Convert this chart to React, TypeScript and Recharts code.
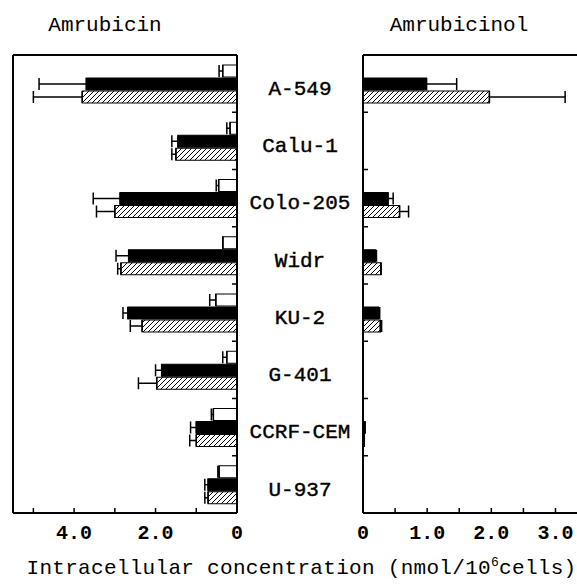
import { BarChart, Bar, XAxis, YAxis, ErrorBar } from "recharts";

const categories = ["A-549", "Calu-1", "Colo-205", "Widr", "KU-2", "G-401", "CCRF-CEM", "U-937"];

// Amrubicin (left panel)
const amrOpen = [0.35, 0.17, 0.45, 0.35, 0.52, 0.25, 0.58, 0.44];
const amrOpenErr = [0.09, 0.08, 0.06, 0, 0.15, 0.1, 0.05, 0.03];
const amrSolid = [3.7, 1.45, 2.87, 2.66, 2.68, 1.85, 1.0, 0.71];
const amrSolidErr = [1.16, 0.15, 0.66, 0.31, 0.12, 0.15, 0.14, 0.08];
const amrHatch = [3.8, 1.5, 3.0, 2.85, 2.33, 1.97, 1.0, 0.71];
const amrHatchErr = [1.2, 0.1, 0.45, 0.08, 0.29, 0.45, 0.16, 0.08];

// Amrubicinol (right panel)
const olOpen = [0, 0, 0, 0, 0, 0, 0, 0];
const olSolid = [0.99, 0, 0.39, 0.19, 0.24, 0, 0.03, 0];
const olSolidErr = [0.47, 0, 0.08, 0.02, 0.02, 0, 0, 0];
const olHatch = [1.97, 0, 0.57, 0.28, 0.27, 0, 0.02, 0];
const olHatchErr = [1.18, 0, 0.14, 0, 0.02, 0, 0, 0];

const leftTicks = [0, 1, 2, 3, 4, 5];
const leftLabels: Record<number, string> = { 0: "0", 2: "2.0", 4: "4.0" };
const rightTicks = [0, 0.5, 1, 1.5, 2, 2.5, 3];
const rightLabels: Record<number, string> = { 0: "0", 1: "1.0", 2: "2.0", 3: "3.0" };

const leftData = categories.map((name, i) => ({
  name,
  open: amrOpen[i],
  openErr: [0, amrOpenErr[i]],
  solid: amrSolid[i],
  solidErr: [0, amrSolidErr[i]],
  hatch: amrHatch[i],
  hatchErr: [0, amrHatchErr[i]],
}));

const rightData = categories.map((name, i) => ({
  name,
  open: olOpen[i],
  solid: olSolid[i],
  solidErr: [0, olSolidErr[i]],
  hatch: olHatch[i],
  hatchErr: [0, olHatchErr[i]],
}));

const FONT = "'Liberation Mono', 'DejaVu Sans Mono', monospace";
const H = 585;
const TOP = 55;
const BOTTOM = 513;
const band = (BOTTOM - TOP) / categories.length;

function xTick(labels: Record<number, string>) {
  return (props: any) => {
    const { x, y, payload } = props;
    const lab = labels[payload.value];
    return (
      <g>
        <line x1={x} y1={y} x2={x} y2={y - 5} stroke="#000" strokeWidth={1.5} />
        {lab !== undefined && (
          <text x={x} y={y + 26} textAnchor="middle" fontFamily={FONT} fontSize={20} fontWeight="bold" fill="#000">
            {lab}
          </text>
        )}
      </g>
    );
  };
}

function CategoryTick(props: any) {
  const { x, y, payload } = props;
  return (
    <g>
      <line x1={x} y1={y - band / 2} x2={x - 5} y2={y - band / 2} stroke="#000" strokeWidth={1.5} />
      <text
        x={x + 63}
        y={y + 4}
        dy="0.35em"
        textAnchor="middle"
        fontFamily={FONT}
        fontSize={21}
        fill="#000"
        stroke="#000"
        strokeWidth={0.4}
      >
        {payload.value}
      </text>
    </g>
  );
}

function RightEdgeTick(props: any) {
  const { x, y } = props;
  return <line x1={x} y1={y - band / 2} x2={x + 5} y2={y - band / 2} stroke="#000" strokeWidth={1.5} />;
}

const axisStroke = { stroke: "#000", strokeWidth: 2 };

export default function App() {
  return (
    <div style={{ position: "absolute", left: 0, top: 0, width: 577, height: H, overflow: "hidden", background: "#fff" }}>
      <svg width={0} height={0} style={{ position: "absolute" }}>
        <defs>
          <pattern id="hatch" patternUnits="userSpaceOnUse" width={5} height={5}>
            <rect width={5} height={5} fill="#fff" />
            <path d="M-1,1 L1,-1 M0,5 L5,0 M4,6 L6,4" stroke="#000" strokeWidth={1} />
          </pattern>
        </defs>
      </svg>

      <div style={{ position: "absolute", left: 0, top: 14, width: 210, textAlign: "center", fontFamily: FONT, fontSize: 21 }}>
        Amrubicin
      </div>
      <div style={{ position: "absolute", left: 360, top: 14, width: 198, textAlign: "center", fontFamily: FONT, fontSize: 21 }}>
        Amrubicinol
      </div>

      <div style={{ position: "absolute", left: 0, top: 0 }}>
        <BarChart
          width={363}
          height={H}
          data={leftData}
          layout="vertical"
          margin={{ top: TOP - 1, right: 0, bottom: H - BOTTOM - 30, left: 12 }}
          barSize={12}
          barGap={1}
        >
          <XAxis
            xAxisId="b"
            type="number"
            domain={[0, 5.5]}
            ticks={leftTicks}
            reversed
            height={30}
            axisLine={axisStroke}
            tickLine={false}
            tickSize={0}
            tickMargin={0}
            tick={xTick(leftLabels)}
          />
          <XAxis xAxisId="t" type="number" domain={[0, 5.5]} reversed orientation="top" height={1} axisLine={axisStroke} tick={false} tickLine={false} />
          <YAxis
            yAxisId="c"
            type="category"
            dataKey="name"
            orientation="right"
            width={126}
            axisLine={axisStroke}
            tickLine={false}
            tickSize={0}
            tickMargin={0}
            tick={CategoryTick}
            interval={0}
          />
          <YAxis yAxisId="l" type="category" dataKey="name" orientation="left" width={1} axisLine={axisStroke} tick={false} tickLine={false} />
          <Bar xAxisId="b" yAxisId="c" dataKey="open" fill="#fff" stroke="#000" strokeWidth={1.2} isAnimationActive={false}>
            <ErrorBar dataKey="openErr" direction="x" width={6} stroke="#000" strokeWidth={1.5} />
          </Bar>
          <Bar xAxisId="b" yAxisId="c" dataKey="solid" fill="#000" stroke="#000" strokeWidth={1.2} isAnimationActive={false}>
            <ErrorBar dataKey="solidErr" direction="x" width={6} stroke="#000" strokeWidth={1.5} />
          </Bar>
          <Bar xAxisId="b" yAxisId="c" dataKey="hatch" fill="url(#hatch)" stroke="#000" strokeWidth={1.2} isAnimationActive={false}>
            <ErrorBar dataKey="hatchErr" direction="x" width={6} stroke="#000" strokeWidth={1.5} />
          </Bar>
        </BarChart>
      </div>

      <div style={{ position: "absolute", left: 350, top: 0 }}>
        <BarChart
          width={244}
          height={H}
          data={rightData}
          layout="vertical"
          margin={{ top: TOP - 1, right: 0, bottom: H - BOTTOM - 30, left: 12 }}
          barSize={12}
          barGap={1}
        >
          <XAxis
            xAxisId="b"
            type="number"
            domain={[0, 3.6]}
            ticks={rightTicks}
            height={30}
            axisLine={axisStroke}
            tickLine={false}
            tickSize={0}
            tickMargin={0}
            tick={xTick(rightLabels)}
          />
          <XAxis xAxisId="t" type="number" domain={[0, 3.6]} orientation="top" height={1} axisLine={axisStroke} tick={false} tickLine={false} />
          <YAxis
            yAxisId="l"
            type="category"
            dataKey="name"
            orientation="left"
            width={1}
            axisLine={axisStroke}
            tickLine={false}
            tickSize={0}
            tickMargin={0}
            tick={RightEdgeTick}
            interval={0}
          />
          <Bar xAxisId="b" yAxisId="l" dataKey="open" fill="#fff" stroke="none" isAnimationActive={false} />
          <Bar xAxisId="b" yAxisId="l" dataKey="solid" fill="#000" stroke="#000" strokeWidth={1.2} isAnimationActive={false}>
            <ErrorBar dataKey="solidErr" direction="x" width={6} stroke="#000" strokeWidth={1.5} />
          </Bar>
          <Bar xAxisId="b" yAxisId="l" dataKey="hatch" fill="url(#hatch)" stroke="#000" strokeWidth={1.2} isAnimationActive={false}>
            <ErrorBar dataKey="hatchErr" direction="x" width={6} stroke="#000" strokeWidth={1.5} />
          </Bar>
        </BarChart>
      </div>

      <div style={{ position: "absolute", left: 26, top: 555, width: 551, textAlign: "center", fontFamily: FONT, fontSize: 21, letterSpacing: 0.3, whiteSpace: "nowrap" }}>
        Intracellular concentration (nmol/10<sup style={{ fontSize: 13 }}>6</sup>cells)
      </div>
    </div>
  );
}
